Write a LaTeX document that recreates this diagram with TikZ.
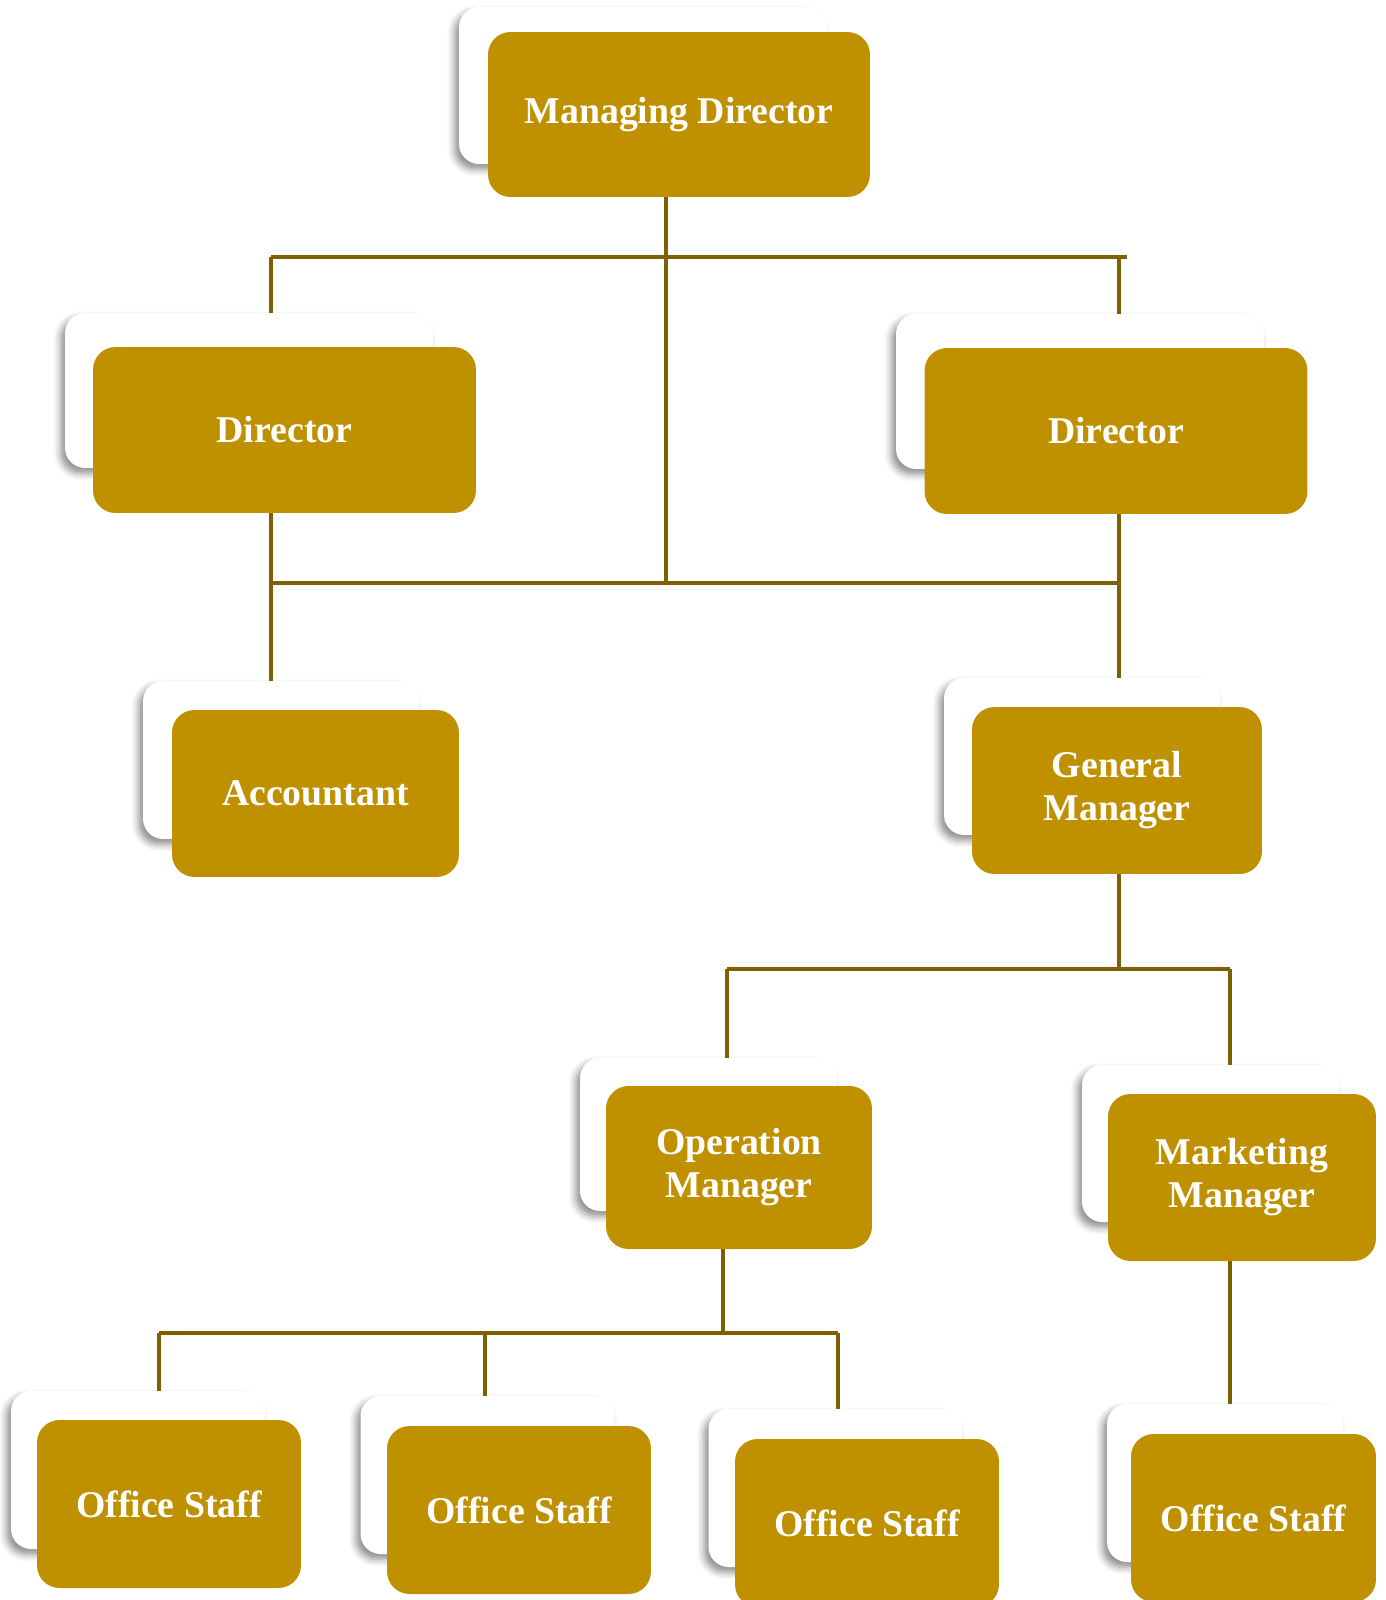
\documentclass[tikz,border=0pt]{standalone}
\usepackage{fontspec}
\setmainfont{Liberation Serif}
\usepackage{xcolor}
\usepackage{tikz}
\usetikzlibrary{shadows,shadows.blur,positioning,calc}
\definecolor{orggold}{HTML}{BF9000}
\definecolor{orgbrown}{HTML}{7F6000}
\tikzset{
  backbox/.style={draw=none,fill=white,rounded corners=0.4cm,inner sep=0pt,
    blur shadow={shadow xshift=-2.5pt,shadow yshift=-3pt,shadow blur radius=4pt,shadow opacity=45}},
  goldbox/.style={draw=none,fill=orggold,rounded corners=0.45cm,inner sep=0pt,
    text=white,align=center,font=\fontsize{21.5}{24.5}\selectfont\bfseries},
  orgline/.style={draw=orgbrown,line width=2pt},
  barline/.style={draw=orgbrown,line width=2.6pt}
}

\begin{document}
\begin{tikzpicture}[x=0.02cm,y=-0.02cm]
      \useasboundingbox (0,0) rectangle (1386,1600);
      % top level
      \node[backbox,minimum width=7.36cm,minimum height=3.14cm] at (643,85.5) (mdb) {};
      \node[goldbox,minimum width=7.64cm,minimum height=3.30cm] at (679,114.5) (md) {Managing Director};
      % directors
      \node[backbox,minimum width=7.36cm,minimum height=3.10cm] at (249,390.5) (dlb) {};
      \node[goldbox,minimum width=7.66cm,minimum height=3.32cm] at (284.5,430) (dl) {Director};
      \node[backbox,minimum width=7.36cm,minimum height=3.10cm] at (1080,391.5) (drb) {};
      \node[goldbox,minimum width=7.66cm,minimum height=3.32cm] at (1116,431) (dr) {Director};
      % accountant and general manager
      \node[backbox,minimum width=5.52cm,minimum height=3.16cm] at (281,760) (accb) {};
      \node[goldbox,minimum width=5.74cm,minimum height=3.34cm] at (315.5,793.5) (acc) {Accountant};
      \node[backbox,minimum width=5.52cm,minimum height=3.14cm] at (1082,756.5) (gmb) {};
      \node[goldbox,minimum width=5.80cm,minimum height=3.34cm] at (1117,790.5) (gm) {General\\Manager};
      % managers
      \node[backbox,minimum width=5.14cm,minimum height=3.06cm] at (708.5,1134.5) (omb) {};
      \node[goldbox,minimum width=5.32cm,minimum height=3.26cm] at (739,1167.5) (om) {Operation\\Manager};
      \node[backbox,minimum width=5.14cm,minimum height=3.14cm] at (1210.5,1143.5) (mmb) {};
      \node[goldbox,minimum width=5.36cm,minimum height=3.34cm] at (1242,1177.5) (mm) {Marketing\\Manager};
      % office staff
      \node[backbox,minimum width=5.08cm,minimum height=3.16cm] at (138,1470) (os1b) {};
      \node[goldbox,minimum width=5.28cm,minimum height=3.36cm] at (169,1504) (os1) {Office Staff};
      \node[backbox,minimum width=5.08cm,minimum height=3.16cm] at (487.5,1475) (os2b) {};
      \node[goldbox,minimum width=5.28cm,minimum height=3.36cm] at (519,1510) (os2) {Office Staff};
      \node[backbox,minimum width=5.08cm,minimum height=3.16cm] at (835.5,1488) (os3b) {};
      \node[goldbox,minimum width=5.28cm,minimum height=3.36cm] at (867,1523) (os3) {Office Staff};
      \node[backbox,minimum width=4.72cm,minimum height=3.16cm] at (1225,1483) (os4b) {};
      \node[goldbox,minimum width=4.90cm,minimum height=3.36cm] at (1253.5,1518) (os4) {Office Staff};
      % bar ends
      \coordinate (topL) at (271,257);
      \coordinate (topR) at (1127,257);
      \coordinate (midL) at (271,583);
      \coordinate (midC) at (666,583);
      \coordinate (midR) at (1119,583);
      \coordinate (gmL) at (727,969);
      \coordinate (gmR) at (1230,969);
      \coordinate (omL) at (159,1333);
      \coordinate (omC) at (723,1333);
      \coordinate (omM) at (485,1333);
      \coordinate (omR) at (838,1333);
      % connectors
      \draw[orgline] (md.south -| midC)--(midC);
      \draw[barline] (topL)--(topR);
      \draw[orgline] (topL)--(dlb.north -| topL);
      \draw[orgline] (topR -| midR)--(drb.north -| midR);
      \draw[orgline] (midL)--(midR);
      \draw[orgline] (dl.south -| midL)--(accb.north -| midL);
      \draw[orgline] (dr.south -| midR)--(gmb.north -| midR);
      \draw[orgline] (gm.south -| midR)--(gmR -| midR);
      \draw[orgline] (gmL)--(gmR);
      \draw[orgline] (gmL)--(omb.north -| gmL);
      \draw[orgline] (gmR)--(mmb.north -| gmR);
      \draw[orgline] (om.south -| omC)--(omC);
      \draw[orgline] (omL)--(omR);
      \draw[orgline] (omL)--(os1b.north -| omL);
      \draw[orgline] (omM)--(os2b.north -| omM);
      \draw[orgline] (omR)--(os3b.north -| omR);
      \draw[orgline] (mm.south -| gmR)--(os4b.north -| gmR);
    \end{tikzpicture}
\end{document}
